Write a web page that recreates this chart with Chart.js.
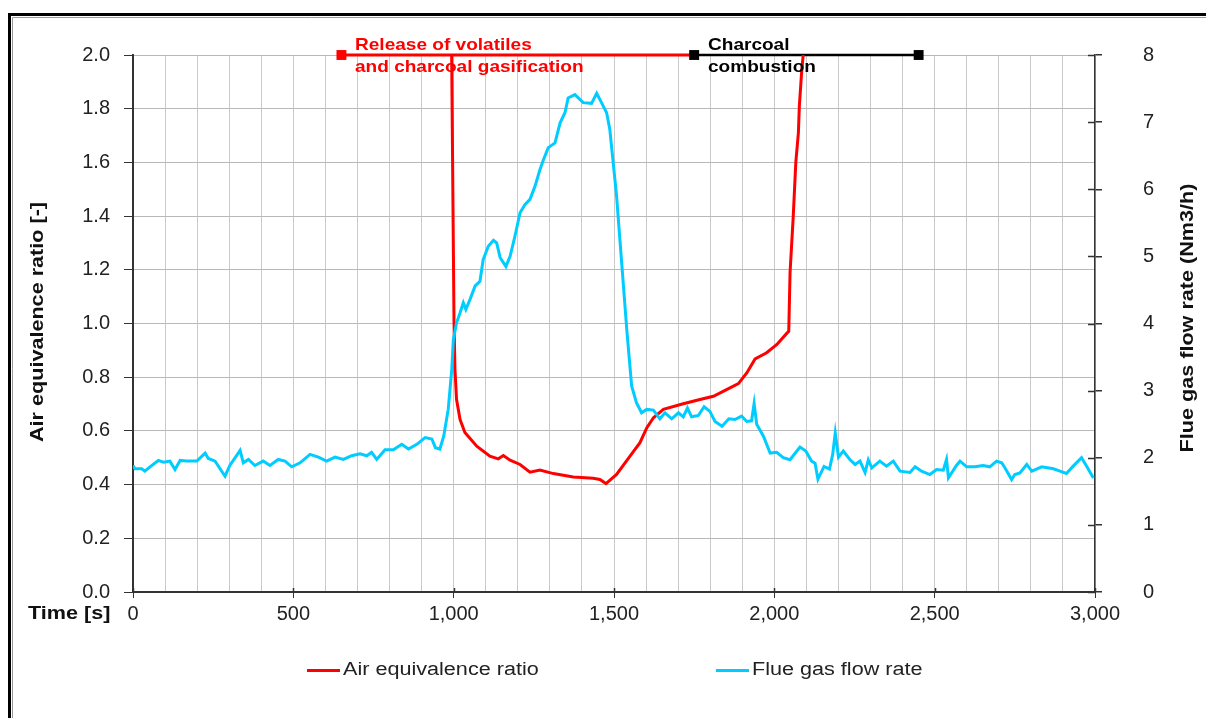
<!DOCTYPE html>
<html>
<head>
<meta charset="utf-8">
<title>Air equivalence ratio and flue gas flow rate</title>
<script src="https://cdn.jsdelivr.net/npm/chart.js@4.4.1/dist/chart.umd.min.js"></script>
<style>
  html, body { margin: 0; padding: 0; background: #ffffff; }
  canvas { display: block; }
</style>
</head>
<body>
<canvas id="chart" width="1206" height="718"></canvas>
<script>
// Air equivalence ratio [-] (left axis) against time [s]
const ratioTime = [990, 993, 1001, 1004, 1009, 1020, 1035, 1072, 1113, 1139, 1155, 1176, 1207, 1238, 1269,
  1311, 1373, 1435, 1456, 1475, 1508, 1550, 1581, 1602, 1623, 1654, 1716, 1768, 1810, 1851, 1888, 1914,
  1940, 1976, 2008, 2040, 2045, 2049, 2059, 2067, 2075, 2078, 2085, 2090, 2096];
const ratioValue = [2.6, 2.1, 1.015, 0.83, 0.717, 0.642, 0.594, 0.543, 0.506, 0.496, 0.508, 0.491, 0.475, 0.446, 0.454,
  0.441, 0.428, 0.424, 0.419, 0.404, 0.438, 0.506, 0.556, 0.611, 0.649, 0.680, 0.701, 0.717, 0.729, 0.754, 0.776, 0.816,
  0.868, 0.891, 0.922, 0.965, 0.971, 1.189, 1.40, 1.60, 1.71, 1.81, 1.934, 2.0, 2.3];

// Flue gas flow rate [Nm3/h] (right axis) against time [s]
const flowTime = [0, 6, 27, 37, 53, 79, 95, 115, 131, 147, 167, 199, 225, 235, 256, 287, 302, 334, 344, 360,
  380, 406, 427, 453, 474, 495, 521, 552, 578, 604, 630, 656, 682, 708, 729, 744, 760, 786, 812, 838,
  859, 885, 911, 932, 943, 957, 969, 983, 994, 999, 1009, 1020, 1030, 1038, 1051, 1067, 1082, 1092, 1108, 1124,
  1134, 1145, 1163, 1176, 1191, 1207, 1222, 1238, 1254, 1269, 1280, 1295, 1316, 1332, 1347, 1357, 1378, 1404, 1430, 1446,
  1461, 1477, 1487, 1508, 1524, 1540, 1555, 1570, 1586, 1602, 1623, 1643, 1659, 1680, 1701, 1716, 1729, 1742, 1763, 1781,
  1799, 1815, 1837, 1858, 1877, 1898, 1914, 1929, 1937, 1945, 1966, 1987, 2007, 2028, 2049, 2080, 2098, 2116, 2127, 2136,
  2155, 2172, 2182, 2190, 2200, 2215, 2236, 2252, 2267, 2283, 2293, 2304, 2329, 2350, 2371, 2392, 2423, 2439, 2459, 2485,
  2506, 2527, 2537, 2543, 2568, 2579, 2600, 2625, 2651, 2672, 2693, 2709, 2719, 2740, 2750, 2766, 2787, 2803, 2834, 2870,
  2891, 2911, 2932, 2958, 2974, 2995];
const flowValue = [1.885, 1.835, 1.835, 1.80, 1.865, 1.96, 1.935, 1.95, 1.825, 1.96, 1.95, 1.95, 2.07, 1.99, 1.95, 1.725, 1.885, 2.11, 1.925, 1.975,
  1.885, 1.95, 1.885, 1.975, 1.95, 1.865, 1.925, 2.05, 2.01, 1.95, 2.01, 1.975, 2.03, 2.06, 2.03, 2.08, 1.975, 2.12, 2.12, 2.20,
  2.13, 2.20, 2.30, 2.28, 2.15, 2.13, 2.32, 2.72, 3.31, 3.76, 4.01, 4.16, 4.31, 4.21, 4.36, 4.56, 4.63, 4.95, 5.15, 5.24,
  5.20, 4.98, 4.85, 5.00, 5.30, 5.65, 5.77, 5.85, 6.05, 6.29, 6.44, 6.62, 6.69, 6.99, 7.14, 7.36, 7.41, 7.29, 7.28, 7.43,
  7.29, 7.14, 6.89, 5.90, 4.90, 3.90, 3.07, 2.82, 2.67, 2.72, 2.71, 2.58, 2.67, 2.58, 2.67, 2.61, 2.74, 2.61, 2.63, 2.76,
  2.69, 2.54, 2.47, 2.58, 2.57, 2.62, 2.54, 2.55, 2.81, 2.50, 2.32, 2.07, 2.08, 2.00, 1.97, 2.16, 2.10, 1.95, 1.92, 1.68,
  1.87, 1.83, 2.05, 2.37, 2.01, 2.10, 1.97, 1.90, 1.95, 1.78, 1.97, 1.85, 1.95, 1.875, 1.95, 1.80, 1.78, 1.865, 1.80, 1.75,
  1.825, 1.815, 1.975, 1.70, 1.885, 1.95, 1.865, 1.865, 1.885, 1.865, 1.95, 1.925, 1.85, 1.675, 1.75, 1.775, 1.90, 1.80, 1.865, 1.835,
  1.80, 1.765, 1.875, 2.00, 1.875, 1.70];

// Process phases marked along the top edge (time span in s, drawn at ratio 2.0)
const gasificationPhase = [650, 1750];
const combustionPhase = [1750, 2450];
const phaseLevel = 2.0;

// Axis ticks
const timeMajorStep = 500;
const timeGridStep = 100;
const ratioTicks = { min: 0, max: 2, step: 0.2 };
const flowTicks = { min: 0, max: 8, step: 1 };

const RED = '#ff0000';
const CYAN = '#00ccff';
const INK = '#222222';
const AXIS = '#333333';

const toPoints = (xs, ys) => xs.map((x, i) => ({ x: x, y: ys[i] }));

// Text with a slight horizontal widening, optionally rotated
function wideText(ctx, text, x, y, o) {
  ctx.save();
  ctx.translate(x, y);
  if (o.rotate) ctx.rotate(o.rotate);
  ctx.scale(o.sx || 1, 1);
  ctx.font = o.font;
  ctx.fillStyle = o.color || INK;
  ctx.textAlign = o.align || 'left';
  ctx.textBaseline = o.baseline || 'middle';
  ctx.fillText(text, 0, 0);
  ctx.restore();
}

const decorations = {
  id: 'decorations',
  beforeDraw(chart) {
    const ctx = chart.ctx;
    ctx.save();
    ctx.fillStyle = '#ffffff';
    ctx.fillRect(0, 0, chart.width, chart.height);
    // outer frame (double line)
    ctx.strokeStyle = '#000000';
    ctx.lineWidth = 3;
    ctx.beginPath();
    ctx.moveTo(9.5, chart.height + 5);
    ctx.lineTo(9.5, 14.5);
    ctx.lineTo(chart.width + 5, 14.5);
    ctx.stroke();
    ctx.strokeStyle = '#9a9a9a';
    ctx.lineWidth = 1;
    ctx.beginPath();
    ctx.moveTo(12.5, chart.height + 5);
    ctx.lineTo(12.5, 17.5);
    ctx.lineTo(chart.width + 5, 17.5);
    ctx.stroke();
    ctx.restore();
  },
  afterDraw(chart) {
    const ctx = chart.ctx;
    const area = chart.chartArea;
    const x = chart.scales.x, y1 = chart.scales.y1;
    ctx.save();
    ctx.strokeStyle = AXIS;
    ctx.lineWidth = 1.5;
    // right-axis ticks reach into the plot as well
    ctx.beginPath();
    y1.ticks.forEach(t => {
      const py = Math.round(y1.getPixelForValue(t.value)) + 0.5;
      ctx.moveTo(area.right - 7, py);
      ctx.lineTo(area.right, py);
    });
    // major time ticks cross the axis
    x.ticks.forEach(t => {
      if (t.value % timeMajorStep === 0) {
        const px = Math.round(x.getPixelForValue(t.value)) + 0.5;
        ctx.moveTo(px, area.bottom - 4);
        ctx.lineTo(px, area.bottom);
      }
    });
    ctx.stroke();
    ctx.restore();

    const boldF = 'bold 18px "Liberation Sans", Arial, sans-serif';
    const regF = '18px "Liberation Sans", Arial, sans-serif';
    const sx = 1.2;
    // axis titles
    wideText(ctx, 'Air equivalence ratio [-]', 38, 322, { font: boldF, sx: sx, rotate: -Math.PI / 2, align: 'center', color: '#111' });
    wideText(ctx, 'Flue gas flow rate (Nm3/h)', 1188, 318, { font: boldF, sx: sx, rotate: -Math.PI / 2, align: 'center', color: '#111' });
    wideText(ctx, 'Time [s]', 28, 614, { font: boldF, sx: sx, color: '#111' });

    // phase labels
    const pf = 'bold 17px "Liberation Sans", Arial, sans-serif';
    wideText(ctx, 'Release of volatiles', 355, 45, { font: pf, sx: 1.12, color: RED });
    wideText(ctx, 'and charcoal gasification', 355, 67, { font: pf, sx: 1.12, color: RED });
    wideText(ctx, 'Charcoal', 708, 45, { font: pf, sx: 1.12, color: '#000' });
    wideText(ctx, 'combustion', 708, 67, { font: pf, sx: 1.12, color: '#000' });

    // legend
    const items = [
      { label: chart.data.datasets[1].label, color: chart.data.datasets[1].borderColor, x: 307 },
      { label: chart.data.datasets[0].label, color: chart.data.datasets[0].borderColor, x: 716 }
    ];
    const ly = 670;
    items.forEach(it => {
      ctx.save();
      ctx.strokeStyle = it.color;
      ctx.lineWidth = 3;
      ctx.beginPath();
      ctx.moveTo(it.x, ly + 0.5);
      ctx.lineTo(it.x + 33, ly + 0.5);
      ctx.stroke();
      ctx.restore();
      wideText(ctx, it.label, it.x + 36, ly, { font: regF, sx: sx, color: INK });
    });
  }
};

new Chart(document.getElementById('chart'), {
  type: 'line',
  data: {
    datasets: [
      {
        label: 'Flue gas flow rate',
        data: toPoints(flowTime, flowValue),
        yAxisID: 'y1',
        borderColor: CYAN,
        borderWidth: 3,
        pointRadius: 0,
        tension: 0
      },
      {
        label: 'Air equivalence ratio',
        data: toPoints(ratioTime, ratioValue),
        yAxisID: 'y',
        borderColor: RED,
        borderWidth: 3,
        pointRadius: 0,
        tension: 0
      },
      {
        label: 'Release of volatiles and charcoal gasification',
        data: gasificationPhase.map(t => ({ x: t, y: phaseLevel })),
        yAxisID: 'y',
        borderColor: RED,
        borderWidth: 3,
        pointStyle: 'rect',
        pointRadius: [7, 0],
        pointBackgroundColor: RED,
        pointBorderWidth: 0,
        clip: false,
        order: 1
      },
      {
        label: 'Charcoal combustion',
        data: combustionPhase.map(t => ({ x: t, y: phaseLevel })),
        yAxisID: 'y',
        borderColor: '#000000',
        borderWidth: 2.5,
        pointStyle: 'rect',
        pointRadius: 7,
        pointBackgroundColor: '#000000',
        pointBorderWidth: 0,
        clip: false,
        order: 0
      }
    ]
  },
  options: {
    responsive: false,
    devicePixelRatio: 1,
    animation: false,
    events: [],
    layout: { padding: { top: 55, left: 0, right: 0, bottom: 0 } },
    plugins: { legend: { display: false }, tooltip: { enabled: false }, title: { display: false } },
    scales: {
      x: {
        type: 'linear',
        min: 0,
        max: 3000,
        afterFit: s => { s.height = 126; },
        ticks: {
          stepSize: timeGridStep,
          autoSkip: false,
          maxRotation: 0,
          padding: 4,
          color: INK,
          font: { family: '"Liberation Sans", Arial, sans-serif', size: 20 },
          callback: v => (v % timeMajorStep === 0 ? v.toLocaleString('en-US') : '')
        },
        grid: {
          color: '#cacaca',
          lineWidth: 1,
          tickLength: 6,
          tickColor: c => (c.tick && c.tick.value % timeMajorStep === 0 ? AXIS : 'rgba(0,0,0,0)')
        },
        border: { color: AXIS, width: 2 }
      },
      y: {
        position: 'left',
        min: ratioTicks.min,
        max: ratioTicks.max,
        afterFit: s => { s.width = 133; },
        ticks: {
          stepSize: ratioTicks.step,
          padding: 14,
          color: INK,
          font: { family: '"Liberation Sans", Arial, sans-serif', size: 20 },
          callback: v => Number(v).toFixed(1)
        },
        grid: { color: '#b8b8b8', lineWidth: 1, tickLength: 9, tickColor: AXIS },
        border: { color: AXIS, width: 2 }
      },
      y1: {
        position: 'right',
        min: flowTicks.min,
        max: flowTicks.max,
        afterFit: s => { s.width = 111; },
        ticks: {
          stepSize: flowTicks.step,
          padding: 41,
          color: INK,
          font: { family: '"Liberation Sans", Arial, sans-serif', size: 20 },
          callback: v => String(v)
        },
        grid: { drawOnChartArea: false, tickLength: 7, tickColor: AXIS, lineWidth: 1.5 },
        border: { color: AXIS, width: 1.5 }
      }
    }
  },
  plugins: [decorations]
});
</script>
</body>
</html>
